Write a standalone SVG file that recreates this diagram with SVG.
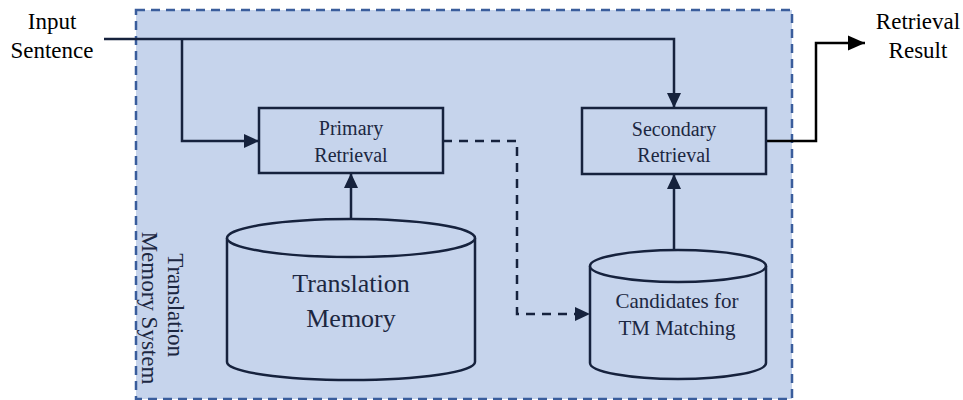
<svg xmlns="http://www.w3.org/2000/svg" width="963" height="400" viewBox="0 0 963 400">
  <style>
    .frame { fill: #c6d4ec; stroke: #3a5d9c; stroke-width: 2.5; stroke-dasharray: 9 6; }
    .box { fill: #c6d4ec; stroke: #16223d; stroke-width: 2.5; }
    .wire { fill: none; stroke: #16223d; stroke-width: 2.5; }
    .dash { stroke-dasharray: 9 7; }
    .out { fill: none; stroke: #000; stroke-width: 2.5; }
    text { font-family: 'Liberation Serif', 'Times New Roman', Times, serif; text-anchor: middle; }
    .lbl { fill: #1c2741; }
    .ext { fill: #000; font-size: 23px; }
  </style>
  <defs>
    <marker id="tri" markerUnits="userSpaceOnUse" markerWidth="16" markerHeight="16" viewBox="0 0 16 16" refX="15" refY="8" orient="auto">
      <path d="M0,1 L15,8 L0,15 Z" fill="#16223d"/>
    </marker>
    <marker id="triBlack" markerUnits="userSpaceOnUse" markerWidth="18" markerHeight="18" viewBox="0 0 18 18" refX="17" refY="9" orient="auto">
      <path d="M0,1.5 L17,9 L0,16.5 Z" fill="#000"/>
    </marker>
  </defs>

  <!-- system boundary -->
  <g id="tm-system">
    <rect class="frame" x="136" y="10" width="656" height="389"/>
    <text class="lbl" font-family="Liberation Serif, serif" font-size="23" transform="translate(168,308) rotate(90)">
      <tspan x="0" y="0">Translation</tspan>
      <tspan x="0" y="26">Memory System</tspan>
    </text>
  </g>

  <!-- external labels -->
  <g id="input-label" font-family="Liberation Serif, serif">
    <text class="ext" x="52" y="29">Input</text>
    <text class="ext" x="52" y="58">Sentence</text>
  </g>
  <g id="result-label" font-family="Liberation Serif, serif">
    <text class="ext" x="918" y="29">Retrieval</text>
    <text class="ext" x="918" y="58">Result</text>
  </g>

  <!-- connectors -->
  <g id="connectors">
    <path class="wire" d="M104,39 H674 V108" marker-end="url(#tri)"/>
    <path class="wire" d="M182,39 V141 H259" marker-end="url(#tri)"/>
    <path class="wire" d="M351,219 V173" marker-end="url(#tri)"/>
    <path class="wire" d="M674,250 V174" marker-end="url(#tri)"/>
    <path class="wire dash" d="M443,141 H517 V314 H590" marker-end="url(#tri)"/>
    <path class="out" d="M766,141 H816 V43 H865" marker-end="url(#triBlack)"/>
  </g>

  <g id="primary-retrieval" font-family="Liberation Serif, serif">
    <rect class="box" x="259" y="108" width="184" height="65"/>
    <text class="lbl" font-size="20" x="351" y="135">Primary</text>
    <text class="lbl" font-size="20" x="351" y="162">Retrieval</text>
  </g>

  <g id="secondary-retrieval" font-family="Liberation Serif, serif">
    <rect class="box" x="582" y="108" width="184" height="66"/>
    <text class="lbl" font-size="20" x="674" y="136">Secondary</text>
    <text class="lbl" font-size="20" x="674" y="162">Retrieval</text>
  </g>

  <g id="translation-memory" font-family="Liberation Serif, serif">
    <path class="box" d="M227,238 V362 A124,18 0 0 0 475,362 V238 A124,19 0 0 0 227,238 Z"/>
    <path class="box" fill="none" d="M227,238 A124,19 0 0 0 475,238"/>
    <text class="lbl" font-size="26" x="351" y="292">Translation</text>
    <text class="lbl" font-size="26" x="351" y="327">Memory</text>
  </g>

  <g id="tm-candidates" font-family="Liberation Serif, serif">
    <path class="box" d="M590,266 V363 A88,16 0 0 0 766,363 V266 A88,16 0 0 0 590,266 Z"/>
    <path class="box" fill="none" d="M590,266 A88,16 0 0 0 766,266"/>
    <text class="lbl" font-size="21" x="677" y="308">Candidates for</text>
    <text class="lbl" font-size="21" x="677" y="335">TM Matching</text>
  </g>
</svg>
